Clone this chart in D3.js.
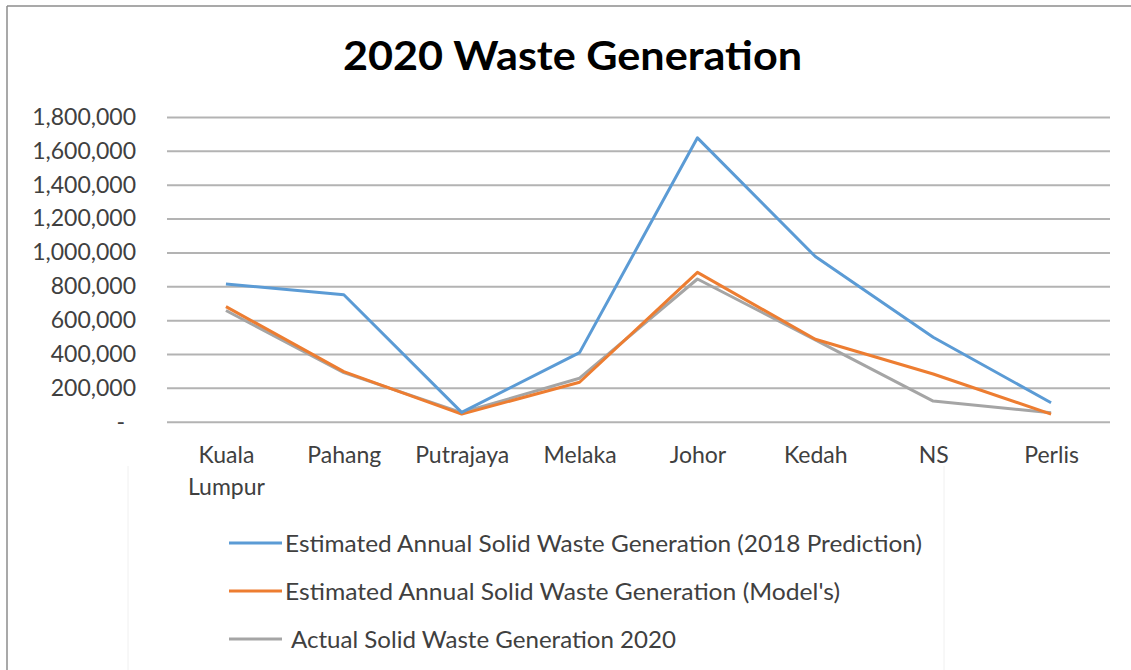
<!DOCTYPE html>
<html>
<head>
<meta charset="utf-8">
<script src="https://cdn.jsdelivr.net/npm/d3@7"></script>
<style>
  body { margin: 0; background: #fff; }
  svg { display: block; font-family: Lato, "Open Sans", sans-serif; }
</style>
</head>
<body>
<svg width="1131" height="670"></svg>
<script>
var svg = d3.select("svg"),
    width = +svg.attr("width"),
    height = +svg.attr("height");

// data
var states = ["Kuala Lumpur", "Pahang", "Putrajaya", "Melaka", "Johor", "Kedah", "NS", "Perlis"];
var prediction2018 = [813000, 750000, 55000, 408000, 1677000, 976000, 499000, 112000];
var modelEstimate = [680000, 296000, 45000, 233000, 882000, 487000, 282000, 45000];
var actual2020 = [657000, 290000, 54000, 257000, 843000, 483000, 122000, 53000];
var yTicks = [0, 200000, 400000, 600000, 800000, 1000000, 1200000, 1400000, 1600000, 1800000];
var seriesNames = [
  "Estimated Annual Solid Waste Generation (2018 Prediction)",
  "Estimated Annual Solid Waste Generation (Model's)",
  " Actual Solid Waste Generation 2020"
];
var seriesColors = ["#5b9bd5", "#ed7d31", "#a5a5a5"];

var series = [prediction2018, modelEstimate, actual2020];

var x = d3.scalePoint().domain(states).range([167, 1110]).padding(0.5);
var y = d3.scaleLinear().domain([0, 1800000]).range([421.7, 117]);

// frame edges of the cropped figure
svg.append("line").attr("x1", 7).attr("x2", width).attr("y1", 6).attr("y2", 6)
   .attr("stroke", "#8c8c8c").attr("stroke-width", 1.5);
svg.append("line").attr("x1", 7).attr("x2", 7).attr("y1", 6).attr("y2", height)
   .attr("stroke", "#8c8c8c").attr("stroke-width", 1.5);
// faint page lines behind the legend
[128, 944].forEach(function(px) {
  svg.append("line").attr("x1", px).attr("x2", px).attr("y1", 466).attr("y2", height)
     .attr("stroke", "#f0f0f0").attr("stroke-width", 1);
});

svg.append("text")
   .attr("x", 572.5).attr("y", 70)
   .attr("text-anchor", "middle")
   .attr("font-size", 41).attr("font-weight", 700).attr("fill", "#000")
   .attr("textLength", 459).attr("lengthAdjust", "spacingAndGlyphs")
   .text("2020 Waste Generation");

// y axis with gridlines
var fmt = d3.format(",");
var yAxis = svg.append("g")
   .attr("transform", "translate(167,0)")
   .call(d3.axisLeft(y).tickValues(yTicks).tickSize(-(1110 - 167)).tickPadding(31)
         .tickFormat(function(d) { return d === 0 ? "-" : fmt(d); }));
yAxis.select(".domain").remove();
yAxis.selectAll(".tick line").attr("stroke", "#b3b3b3").attr("stroke-width", 2);
yAxis.selectAll(".tick text")
   .attr("font-family", "Lato, 'Open Sans', sans-serif")
   .attr("font-size", 23).attr("fill", "#404040")
   .attr("dx", function(d) { return d === 0 ? -11 : 0; });

// category labels
var xAxis = svg.append("g")
   .attr("transform", "translate(0,421.7)")
   .call(d3.axisBottom(x).tickSize(0).tickPadding(0));
xAxis.select(".domain").remove();
xAxis.selectAll(".tick text")
   .attr("font-family", "Lato, 'Open Sans', sans-serif")
   .attr("font-size", 23).attr("fill", "#404040")
   .attr("y", 0).attr("dy", null)
   .each(function(d) {
     var t = d3.select(this).text(null);
     d.split(" ").forEach(function(w, i) {
       t.append("tspan").attr("x", 0).attr("y", 41.5 + i * 32).text(w);
     });
   });

var line = d3.line()
   .x(function(d, i) { return x(states[i]); })
   .y(function(d) { return y(d); });

// draw back to front so the blue sits on top like in the original
[2, 1, 0].forEach(function(k) {
  svg.append("path")
     .datum(series[k])
     .attr("d", line)
     .attr("fill", "none")
     .attr("stroke", seriesColors[k])
     .attr("stroke-width", 3)
     .attr("stroke-linejoin", "round");
});

// legend
var legendWidths = [637, 555, 385];
var legend = svg.append("g").selectAll("g")
   .data(seriesNames).enter().append("g")
   .attr("transform", function(d, i) { return "translate(229," + (543 + i * 48) + ")"; });
legend.append("line")
   .attr("x1", 0).attr("x2", 53).attr("y1", 0).attr("y2", 0)
   .attr("stroke", function(d, i) { return seriesColors[i]; })
   .attr("stroke-width", 3);
legend.append("text")
   .attr("x", function(d, i) { return i === 2 ? 62 : 56; })
   .attr("y", 8.5)
   .attr("font-size", 23).attr("fill", "#404040")
   .attr("textLength", function(d, i) { return legendWidths[i]; })
   .attr("lengthAdjust", "spacingAndGlyphs")
   .text(function(d) { return d.trim(); });
</script>
</body>
</html>
